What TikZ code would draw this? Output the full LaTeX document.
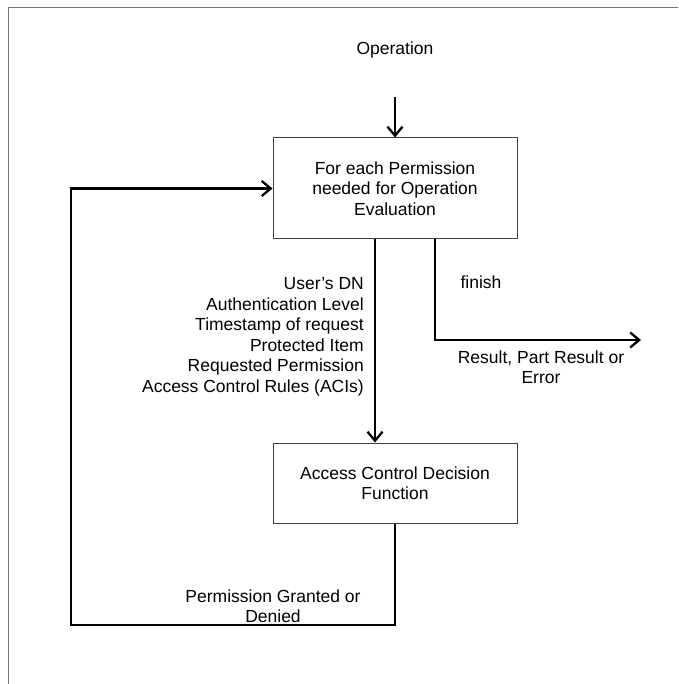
\documentclass[tikz,border=0pt]{standalone}
\usepackage{fontspec}
\setmainfont{Liberation Sans}
\usetikzlibrary{arrows.meta}
\begin{document}
\begin{tikzpicture}[x=1pt,y=-1pt,
        txt/.style={font=\fontsize{17.5}{20.5}\selectfont,inner sep=0pt,align=center},
        box/.style={txt,draw=black!75,line width=1pt,minimum width=244pt},
        flow/.style={line width=2.3pt,-{Straight Barb[length=9pt,width=15pt,line width=2.3pt]}},
        wire/.style={line width=2.3pt}]
    \useasboundingbox (0,0) rectangle (678,684);
    \draw[black!55,line width=0.8pt] (8,684)--(8,7)--(678,7);
    \node[txt] (op) at (395,50) {Operation};
    \coordinate (optail) at (395,97);
    \node[box,minimum height=101pt] (eval) at (395,188.5)
        {For each Permission\\needed for Operation\\Evaluation};
    \node[box,minimum height=80pt] (adf) at (395,483)
        {Access Control Decision\\Function};
    \coordinate (turn) at (435,340);
    \coordinate (out) at (641,340);
    \coordinate (back) at (395,625);
    \coordinate (corner) at (71,625);
    \draw[flow] (optail)--(eval.north);
    \draw[flow] ([xshift=-20pt]eval.south)--([xshift=-20pt]adf.north);
    \draw[flow] (eval.south -| turn)--(turn)--(out);
    \draw[flow] (adf.south)--(back)--(corner)--(corner |- eval.west)--(eval.west);
    \node[txt,align=right,anchor=east] (params) at (364,337)
        {User’s DN\\Authentication Level\\Timestamp of request\\Protected Item\\Requested Permission\\Access Control Rules (ACIs)};
    \node[txt] (finish) at (481,282) {finish};
    \node[txt] (result) at (541,367) {Result, Part Result or\\Error};
    \node[txt] (granted) at (273,606) {Permission Granted or\\Denied};
\end{tikzpicture}
\end{document}
